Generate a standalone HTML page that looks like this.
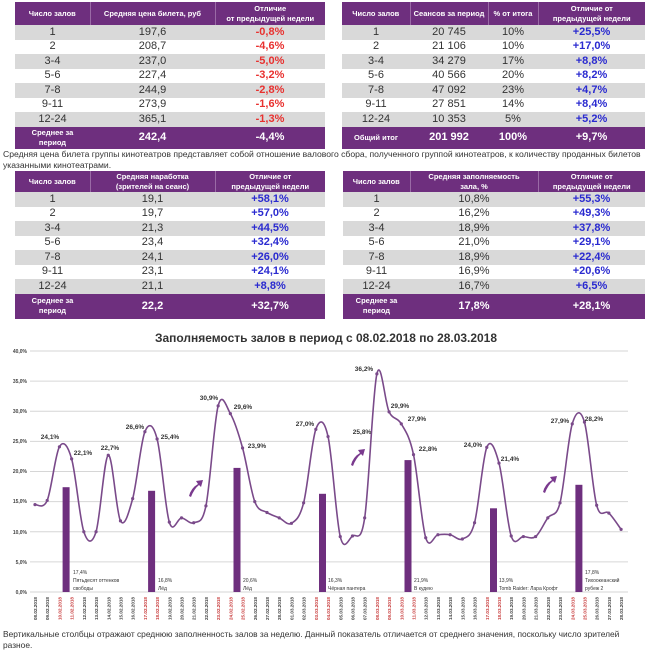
<!DOCTYPE html>
<html><head><meta charset="utf-8">
<style>
html,body{margin:0;padding:0;background:#fff;width:647px;height:650px;overflow:hidden;position:relative;font-family:"Liberation Sans",sans-serif;}
table{position:absolute;border-collapse:collapse;table-layout:fixed;}
td{padding:0;text-align:center;color:#333;font-size:11px;line-height:1;white-space:nowrap;overflow:hidden;}
tr.h td{background:#6e2f7e;color:#fff;font-size:7.5px;font-weight:bold;line-height:1.25;border-right:1px solid #9a6aa6;}
tr.h td:last-child{border-right:none;}
tr.g td{background:#d9d9d9;}
tr.a td{background:#6e2f7e;color:#fff;font-weight:bold;}
tr.a td:first-child{font-size:7.5px;line-height:1.3;}
.r{color:#e8312f !important;font-weight:bold;}
.b{color:#2a2ad0 !important;font-weight:bold;}
.note{position:absolute;font-size:8.6px;color:#333;white-space:nowrap;}
</style></head><body>

<table style="left:15px;top:2px;width:310px">
<col style="width:75px"><col style="width:125px"><col style="width:110px">
<tr class="h" style="height:23px"><td>Число залов</td><td>Средняя цена билета, руб</td><td>Отличие<br>от предыдущей недели</td></tr>
<tr class="g" style="height:14.5px"><td>1</td><td>197,6</td><td class="r">-0,8%</td></tr>
<tr style="height:14.5px"><td>2</td><td>208,7</td><td class="r">-4,6%</td></tr>
<tr class="g" style="height:14.5px"><td>3-4</td><td>237,0</td><td class="r">-5,0%</td></tr>
<tr style="height:14.5px"><td>5-6</td><td>227,4</td><td class="r">-3,2%</td></tr>
<tr class="g" style="height:14.5px"><td>7-8</td><td>244,9</td><td class="r">-2,8%</td></tr>
<tr style="height:14.5px"><td>9-11</td><td>273,9</td><td class="r">-1,6%</td></tr>
<tr class="g" style="height:14.5px"><td>12-24</td><td>365,1</td><td class="r">-1,3%</td></tr>
<tr class="a" style="height:22px"><td>Среднее за<br>период</td><td>242,4</td><td>-4,4%</td></tr>
</table>

<table style="left:342px;top:2px;width:303px">
<col style="width:68px"><col style="width:78px"><col style="width:50px"><col style="width:107px">
<tr class="h" style="height:23px"><td>Число залов</td><td>Сеансов за период</td><td>% от итога</td><td>Отличие от<br>предыдущей недели</td></tr>
<tr class="g" style="height:14.5px"><td>1</td><td>20 745</td><td>10%</td><td class="b">+25,5%</td></tr>
<tr style="height:14.5px"><td>2</td><td>21 106</td><td>10%</td><td class="b">+17,0%</td></tr>
<tr class="g" style="height:14.5px"><td>3-4</td><td>34 279</td><td>17%</td><td class="b">+8,8%</td></tr>
<tr style="height:14.5px"><td>5-6</td><td>40 566</td><td>20%</td><td class="b">+8,2%</td></tr>
<tr class="g" style="height:14.5px"><td>7-8</td><td>47 092</td><td>23%</td><td class="b">+4,7%</td></tr>
<tr style="height:14.5px"><td>9-11</td><td>27 851</td><td>14%</td><td class="b">+8,4%</td></tr>
<tr class="g" style="height:14.5px"><td>12-24</td><td>10 353</td><td>5%</td><td class="b">+5,2%</td></tr>
<tr class="a" style="height:22px"><td>Общий итог</td><td>201 992</td><td>100%</td><td>+9,7%</td></tr>
</table>

<div class="note" style="left:3px;top:149px">Средняя цена билета группы кинотеатров представляет собой отношение валового сбора, полученного группой кинотеатров, к количеству проданных билетов</div>
<div class="note" style="left:3px;top:160px">указанными кинотеатрами.</div>

<table style="left:15px;top:171px;width:310px">
<col style="width:75px"><col style="width:125px"><col style="width:110px">
<tr class="h" style="height:21px"><td>Число залов</td><td>Средняя наработка<br>(зрителей на сеанс)</td><td>Отличие от<br>предыдущей недели</td></tr>
<tr class="g" style="height:14.5px"><td>1</td><td>19,1</td><td class="b">+58,1%</td></tr>
<tr style="height:14.5px"><td>2</td><td>19,7</td><td class="b">+57,0%</td></tr>
<tr class="g" style="height:14.5px"><td>3-4</td><td>21,3</td><td class="b">+44,5%</td></tr>
<tr style="height:14.5px"><td>5-6</td><td>23,4</td><td class="b">+32,4%</td></tr>
<tr class="g" style="height:14.5px"><td>7-8</td><td>24,1</td><td class="b">+26,0%</td></tr>
<tr style="height:14.5px"><td>9-11</td><td>23,1</td><td class="b">+24,1%</td></tr>
<tr class="g" style="height:14.5px"><td>12-24</td><td>21,1</td><td class="b">+8,8%</td></tr>
<tr class="a" style="height:25px"><td>Среднее за<br>период</td><td>22,2</td><td>+32,7%</td></tr>
</table>

<table style="left:343px;top:171px;width:302px">
<col style="width:67px"><col style="width:128px"><col style="width:107px">
<tr class="h" style="height:21px"><td>Число залов</td><td>Средняя заполняемость<br>зала, %</td><td>Отличие от<br>предыдущей недели</td></tr>
<tr class="g" style="height:14.5px"><td>1</td><td>10,8%</td><td class="b">+55,3%</td></tr>
<tr style="height:14.5px"><td>2</td><td>16,2%</td><td class="b">+49,3%</td></tr>
<tr class="g" style="height:14.5px"><td>3-4</td><td>18,9%</td><td class="b">+37,8%</td></tr>
<tr style="height:14.5px"><td>5-6</td><td>21,0%</td><td class="b">+29,1%</td></tr>
<tr class="g" style="height:14.5px"><td>7-8</td><td>18,9%</td><td class="b">+22,4%</td></tr>
<tr style="height:14.5px"><td>9-11</td><td>16,9%</td><td class="b">+20,6%</td></tr>
<tr class="g" style="height:14.5px"><td>12-24</td><td>16,7%</td><td class="b">+6,5%</td></tr>
<tr class="a" style="height:25px"><td>Среднее за<br>период</td><td>17,8%</td><td>+28,1%</td></tr>
</table>

<svg style="position:absolute;left:0;top:0" width="647" height="650" xmlns="http://www.w3.org/2000/svg" font-family="Liberation Sans, sans-serif">
<text x="326" y="342" text-anchor="middle" font-size="12" font-weight="bold" fill="#333" textLength="342" lengthAdjust="spacingAndGlyphs">Заполняемость залов в период с 08.02.2018 по 28.03.2018</text>
<g stroke="#d6d6d6" stroke-width="1">
<line x1="30" x2="628" y1="351" y2="351"/><line x1="30" x2="628" y1="381.1" y2="381.1"/>
<line x1="30" x2="628" y1="411.3" y2="411.3"/><line x1="30" x2="628" y1="441.4" y2="441.4"/>
<line x1="30" x2="628" y1="471.5" y2="471.5"/><line x1="30" x2="628" y1="501.6" y2="501.6"/>
<line x1="30" x2="628" y1="531.8" y2="531.8"/><line x1="30" x2="628" y1="561.9" y2="561.9"/>
<line x1="30" x2="628" y1="592" y2="592"/>
</g>
<g font-size="5" font-weight="bold" fill="#444" text-anchor="end">
<text x="27" y="353">40,0%</text><text x="27" y="383">35,0%</text><text x="27" y="413">30,0%</text>
<text x="27" y="443">25,0%</text><text x="27" y="473">20,0%</text><text x="27" y="503">15,0%</text>
<text x="27" y="534">10,0%</text><text x="27" y="564">5,0%</text><text x="27" y="594">0,0%</text>
</g>
<g fill="#6e2f7e">
<rect x="62.6" y="487.2" width="7" height="104.8"/>
<rect x="148.1" y="490.8" width="7" height="101.2"/>
<rect x="233.5" y="467.9" width="7" height="124.1"/>
<rect x="319" y="493.8" width="7" height="98.2"/>
<rect x="404.5" y="460.1" width="7" height="131.9"/>
<rect x="490" y="508.3" width="7" height="83.7"/>
<rect x="575.4" y="484.8" width="7" height="107.2"/>
</g>
<g font-size="5" fill="#333">
<text x="73" y="574">17,4%</text><text x="73" y="582">Пятьдесят оттенков</text><text x="73" y="590">свободы</text>
<text x="158" y="582">16,8%</text><text x="158" y="590">Лёд</text>
<text x="243" y="582">20,6%</text><text x="243" y="590">Лёд</text>
<text x="328" y="582">16,3%</text><text x="328" y="590">Чёрная пантера</text>
<text x="414" y="582">21,9%</text><text x="414" y="590">В кудею</text>
<text x="499" y="582">13,9%</text><text x="499" y="590">Tomb Raider: Лара Крофт</text>
<text x="585" y="574">17,8%</text><text x="585" y="582">Тихоокеанский</text><text x="585" y="590">рубеж 2</text>
</g>
<path id="ln" fill="none" stroke="#7a4a8a" stroke-width="1.6"/>
<g id="dots" fill="#7a4a8a"></g>
<g font-size="6.5" font-weight="bold" fill="#333" text-anchor="middle">
<text x="50" y="439">24,1%</text><text x="83" y="455">22,1%</text><text x="110" y="450">22,7%</text>
<text x="135" y="429">26,6%</text><text x="170" y="439">25,4%</text><text x="209" y="400">30,9%</text>
<text x="243" y="409">29,6%</text><text x="257" y="448">23,9%</text><text x="305" y="426">27,0%</text>
<text x="362" y="434">25,8%</text><text x="364" y="371">36,2%</text><text x="400" y="408">29,9%</text>
<text x="417" y="421">27,9%</text><text x="428" y="451">22,8%</text><text x="473" y="447">24,0%</text>
<text x="510" y="461">21,4%</text><text x="560" y="423">27,9%</text><text x="594" y="421">28,2%</text>
</g>
<g fill="#7a3a8e">
<path d="M189 496 Q191 488 198 484 L196 481 L203 480 L201 487 L199 485 Q194 489 191 497 Z"/>
<path d="M351 465 Q353 457 360 453 L358 450 L365 449 L363 456 L361 454 Q356 458 353 466 Z"/>
<path d="M543 492 Q545 484 552 480 L550 477 L557 476 L555 483 L553 481 Q548 485 545 493 Z"/>
</g>
<g font-size="4.6" font-weight="bold" fill="#444" text-anchor="end">
<text transform="translate(37,597) rotate(-90)">08.02.2018</text>
<text transform="translate(49.2,597) rotate(-90)">09.02.2018</text>
<text transform="translate(61.4,597) rotate(-90)" fill="#c83c3c">10.02.2018</text>
<text transform="translate(73.6,597) rotate(-90)" fill="#c83c3c">11.02.2018</text>
<text transform="translate(85.8,597) rotate(-90)">12.02.2018</text>
<text transform="translate(98,597) rotate(-90)">13.02.2018</text>
<text transform="translate(110.3,597) rotate(-90)">14.02.2018</text>
<text transform="translate(122.5,597) rotate(-90)">15.02.2018</text>
<text transform="translate(134.7,597) rotate(-90)">16.02.2018</text>
<text transform="translate(146.9,597) rotate(-90)" fill="#c83c3c">17.02.2018</text>
<text transform="translate(159.1,597) rotate(-90)" fill="#c83c3c">18.02.2018</text>
<text transform="translate(171.3,597) rotate(-90)">19.02.2018</text>
<text transform="translate(183.5,597) rotate(-90)">20.02.2018</text>
<text transform="translate(195.7,597) rotate(-90)">21.02.2018</text>
<text transform="translate(207.9,597) rotate(-90)">22.02.2018</text>
<text transform="translate(220.2,597) rotate(-90)" fill="#c83c3c">23.02.2018</text>
<text transform="translate(232.4,597) rotate(-90)" fill="#c83c3c">24.02.2018</text>
<text transform="translate(244.6,597) rotate(-90)" fill="#c83c3c">25.02.2018</text>
<text transform="translate(256.8,597) rotate(-90)">26.02.2018</text>
<text transform="translate(269,597) rotate(-90)">27.02.2018</text>
<text transform="translate(281.2,597) rotate(-90)">28.02.2018</text>
<text transform="translate(293.4,597) rotate(-90)">01.03.2018</text>
<text transform="translate(305.6,597) rotate(-90)">02.03.2018</text>
<text transform="translate(317.8,597) rotate(-90)" fill="#c83c3c">03.03.2018</text>
<text transform="translate(330,597) rotate(-90)" fill="#c83c3c">04.03.2018</text>
<text transform="translate(342.3,597) rotate(-90)">05.03.2018</text>
<text transform="translate(354.5,597) rotate(-90)">06.03.2018</text>
<text transform="translate(366.7,597) rotate(-90)">07.03.2018</text>
<text transform="translate(378.9,597) rotate(-90)" fill="#c83c3c">08.03.2018</text>
<text transform="translate(391.1,597) rotate(-90)" fill="#c83c3c">09.03.2018</text>
<text transform="translate(403.3,597) rotate(-90)" fill="#c83c3c">10.03.2018</text>
<text transform="translate(415.5,597) rotate(-90)" fill="#c83c3c">11.03.2018</text>
<text transform="translate(427.7,597) rotate(-90)">12.03.2018</text>
<text transform="translate(439.9,597) rotate(-90)">13.03.2018</text>
<text transform="translate(452.2,597) rotate(-90)">14.03.2018</text>
<text transform="translate(464.4,597) rotate(-90)">15.03.2018</text>
<text transform="translate(476.6,597) rotate(-90)">16.03.2018</text>
<text transform="translate(488.8,597) rotate(-90)" fill="#c83c3c">17.03.2018</text>
<text transform="translate(501,597) rotate(-90)" fill="#c83c3c">18.03.2018</text>
<text transform="translate(513.2,597) rotate(-90)">19.03.2018</text>
<text transform="translate(525.4,597) rotate(-90)">20.03.2018</text>
<text transform="translate(537.6,597) rotate(-90)">21.03.2018</text>
<text transform="translate(549.8,597) rotate(-90)">22.03.2018</text>
<text transform="translate(562.1,597) rotate(-90)">23.03.2018</text>
<text transform="translate(574.3,597) rotate(-90)" fill="#c83c3c">24.03.2018</text>
<text transform="translate(586.5,597) rotate(-90)" fill="#c83c3c">25.03.2018</text>
<text transform="translate(598.7,597) rotate(-90)">26.03.2018</text>
<text transform="translate(610.9,597) rotate(-90)">27.03.2018</text>
<text transform="translate(623.1,597) rotate(-90)">28.03.2018</text>
</g>
</svg>
<div class="note" style="left:3px;top:629px;font-size:8.4px">Вертикальные столбцы отражают среднюю заполненность залов за неделю. Данный показатель отличается от среднего значения, поскольку число зрителей</div>
<div class="note" style="left:3px;top:640px;font-size:8.4px">разное.</div>
<script>
var v=[14.5,15.2,24.1,22.1,10.0,10.0,22.7,11.8,15.5,26.6,25.4,11.6,12.3,11.5,14.3,30.9,29.6,23.9,15.0,13.2,12.3,11.4,14.8,27.0,25.8,9.2,9.3,12.3,36.2,29.9,27.9,22.8,9.0,9.5,9.5,8.8,11.5,24.0,21.4,9.3,9.2,9.2,12.3,14.8,27.9,28.2,14.4,13.1,10.4];
var p=v.map(function(a,i){return [35+i*12.21,592-a*6.025];});
var d="M"+p[0][0]+" "+p[0][1];
for(var i=0;i<p.length-1;i++){var p0=p[i-1]||p[i],p1=p[i],p2=p[i+1],p3=p[i+2]||p2;
d+=" C"+(p1[0]+(p2[0]-p0[0])/6)+" "+(p1[1]+(p2[1]-p0[1])/6)+" "+(p2[0]-(p3[0]-p1[0])/6)+" "+(p2[1]-(p3[1]-p1[1])/6)+" "+p2[0]+" "+p2[1];}
document.getElementById("ln").setAttribute("d",d);
var g=document.getElementById("dots"),s="";
p.forEach(function(q){s+='<circle cx="'+q[0]+'" cy="'+q[1]+'" r="1.6"/>';});
g.innerHTML=s;
</script>
</body></html>
